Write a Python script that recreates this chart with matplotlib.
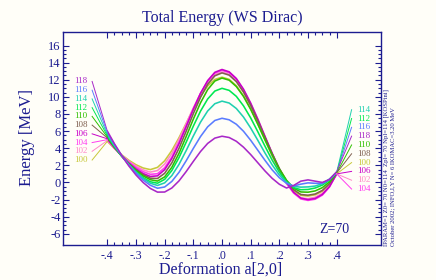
import matplotlib
matplotlib.use("Agg")
import matplotlib.pyplot as plt
from matplotlib.ticker import FixedLocator

plt.rcParams['font.family'] = ['Liberation Serif', 'DejaVu Serif']

# ---------------- data ----------------
deformation = [-0.400, -0.375, -0.350, -0.325, -0.300, -0.275, -0.250, -0.225,
               -0.200, -0.175, -0.150, -0.125, -0.100, -0.075, -0.050, -0.025,
               0.000, 0.025, 0.050, 0.075, 0.100, 0.125, 0.150, 0.175,
               0.200, 0.225, 0.250, 0.275, 0.300, 0.325, 0.350, 0.375, 0.400]

neutrons = [100, 102, 104, 106, 108, 110, 112, 114, 116, 118]

energy_N100 = [4.80, 3.97, 3.23, 2.59, 2.07, 1.69, 1.50, 1.76, 2.53, 3.73, 5.23, 6.90, 8.57,
               10.07, 11.27, 12.04, 12.30, 12.05, 11.30, 10.13, 8.61, 6.84, 4.97, 3.13,
               1.44, 0.06, -0.96, -1.51, -1.59, -1.45, -1.03, -0.23, 1.00]
energy_N102 = [4.90, 3.99, 3.18, 2.48, 1.91, 1.47, 1.21, 1.39, 2.15, 3.40, 5.03, 6.87, 8.72,
               10.40, 11.74, 12.60, 12.90, 12.63, 11.84, 10.59, 8.97, 7.09, 5.10, 3.13,
               1.34, -0.14, -1.22, -1.80, -1.89, -1.73, -1.26, -0.38, 1.00]
energy_N104 = [5.00, 4.02, 3.15, 2.39, 1.75, 1.26, 0.95, 1.02, 1.72, 2.98, 4.67, 6.60, 8.58,
               10.39, 11.84, 12.78, 13.10, 12.83, 12.05, 10.80, 9.18, 7.30, 5.29, 3.31,
               1.47, -0.08, -1.24, -1.93, -2.10, -1.96, -1.48, -0.53, 1.00]
energy_N106 = [5.10, 4.04, 3.09, 2.27, 1.58, 1.04, 0.70, 0.77, 1.49, 2.79, 4.52, 6.51, 8.55,
               10.41, 11.90, 12.87, 13.20, 12.93, 12.15, 10.90, 9.28, 7.40, 5.39, 3.41,
               1.57, 0.02, -1.14, -1.83, -2.00, -1.87, -1.40, -0.48, 1.00]
energy_N108 = [5.20, 4.09, 3.09, 2.22, 1.48, 0.90, 0.50, 0.46, 1.07, 2.29, 3.99, 5.98, 8.04,
               9.94, 11.47, 12.46, 12.80, 12.54, 11.78, 10.57, 9.00, 7.18, 5.26, 3.36,
               1.63, 0.20, -0.84, -1.41, -1.49, -1.35, -0.93, -0.13, 1.10]
energy_N110 = [5.30, 4.14, 3.10, 2.18, 1.40, 0.76, 0.32, 0.16, 0.65, 1.77, 3.40, 5.36, 7.40,
               9.30, 10.85, 11.85, 12.20, 11.95, 11.21, 10.05, 8.54, 6.80, 4.97, 3.19,
               1.57, 0.26, -0.66, -1.11, -1.14, -0.99, -0.61, 0.07, 1.10]
energy_N112 = [5.45, 4.20, 3.08, 2.09, 1.24, 0.56, 0.08, -0.09, 0.36, 1.39, 2.90, 4.70, 6.58,
               8.33, 9.75, 10.68, 11.00, 10.76, 10.06, 8.95, 7.54, 5.92, 4.23, 2.61,
               1.20, 0.09, -0.61, -0.85, -0.82, -0.65, -0.31, 0.27, 1.10]
energy_N114 = [5.60, 4.30, 3.12, 2.08, 1.18, 0.45, -0.09, -0.35, -0.05, 0.80, 2.11, 3.72, 5.43,
               7.04, 8.35, 9.20, 9.50, 9.28, 8.64, 7.64, 6.36, 4.92, 3.44, 2.05,
               0.87, 0.00, -0.47, -0.55, -0.52, -0.42, -0.15, 0.40, 1.20]
energy_N116 = [5.80, 4.42, 3.16, 2.04, 1.07, 0.27, -0.33, -0.68, -0.53, 0.12, 1.18, 2.53, 3.98,
               5.36, 6.50, 7.24, 7.50, 7.32, 6.80, 5.98, 4.93, 3.76, 2.58, 1.47,
               0.55, -0.10, -0.42, -0.20, -0.05, -0.10, -0.10, 0.35, 1.15]
energy_N118 = [6.00, 4.51, 3.15, 1.93, 0.87, -0.01, -0.70, -1.13, -1.12, -0.65, 0.18, 1.27, 2.46,
               3.61, 4.56, 5.18, 5.40, 5.25, 4.81, 4.12, 3.26, 2.30, 1.34, 0.48,
               -0.21, -0.65, -0.35, 0.15, 0.30, 0.15, 0.00, 0.35, 1.25]

energies = {100: energy_N100, 102: energy_N102, 104: energy_N104, 106: energy_N106,
            108: energy_N108, 110: energy_N110, 112: energy_N112, 114: energy_N114,
            116: energy_N116, 118: energy_N118}

left_label_order = [118, 116, 114, 112, 110, 108, 106, 104, 102, 100]
right_label_order = [114, 112, 116, 118, 110, 108, 100, 106, 102, 104]

x_tick_values = [-0.4, -0.3, -0.2, -0.1, 0.0, 0.1, 0.2, 0.3, 0.4]
x_tick_labels = ['-.4', '-.3', '-.2', '-.1', '.0', '.1', '.2', '.3', '.4']
y_tick_values = [-6, -4, -2, 0, 2, 4, 6, 8, 10, 12, 14, 16]

title_text = 'Total Energy (WS Dirac)'
xlabel_text = 'Deformation a[2,0]'
ylabel_text = 'Energy [MeV]'
z_text = 'Z=70'
info_line1 = 'IPARAM=1 Z0= 70 N0=114  Zpl= 70 Npl=114 [KOSPini]'
info_line2 = 'October 2002; INFO,I,Y N= 6 IKOMAC=3.20 MeV'

# ---------------- styles ----------------
colors = {100: '#c8c83a', 102: '#ff88c8', 104: '#ff3cf0', 106: '#c800c8',
          108: '#806050', 110: '#30c000', 112: '#00e850', 114: '#20d0b0',
          116: '#5a7cff', 118: '#a828c8'}
navy = '#1c1c90'
bg = '#fffef8'

fig = plt.figure(figsize=(4.36, 2.8), dpi=100, facecolor=bg)
ax = fig.add_axes([63 / 436, 1 - 245 / 280, 318 / 436, 213 / 280])
ax.set_facecolor(bg)

for n in neutrons:
    ax.plot(deformation, energies[n], color=colors[n], lw=1.15,
            solid_joinstyle='round', solid_capstyle='round')

# label lines (left)
for k, n in enumerate(left_label_order):
    ly = 11.8 - 1.02 * k
    ax.plot([-0.453, deformation[0]], [ly, energies[n][0]], color=colors[n], lw=0.7)
    ax.text(-0.470, ly, str(n), ha='right', va='center', fontsize=6.5, color=colors[n])

# label lines (right)
for k, n in enumerate(right_label_order):
    ly = 8.5 - 1.03 * k
    ax.plot([deformation[-1], 0.452], [energies[n][-1], ly], color=colors[n], lw=0.7)
    ax.text(0.472, ly, str(n), ha='left', va='center', fontsize=6.5, color=colors[n])

ax.set_xlim(-0.5546, 0.5546)
ax.set_ylim(-7.31, 17.58)

ax.set_xticks(x_tick_values)
ax.set_xticklabels(x_tick_labels)
ax.xaxis.set_minor_locator(FixedLocator([-0.4 + 0.025 * i for i in range(33)]))
ax.set_yticks(y_tick_values)
ax.set_yticklabels([str(v) for v in y_tick_values])
ax.yaxis.set_minor_locator(FixedLocator([-6 + 0.5 * i for i in range(45)]))

ax.tick_params(which='both', direction='in', top=True, right=True,
               color=navy, labelcolor=navy, width=0.8)
ax.tick_params(which='major', length=4.5)
ax.tick_params(which='minor', length=2.2)
ax.tick_params(axis='x', pad=3.5, labelsize=8.5)
ax.tick_params(axis='y', pad=1.5, labelsize=9)
for s in ax.spines.values():
    s.set_color(navy)
    s.set_linewidth(1.0)

ax.text(0.9, 0.075, z_text, transform=ax.transAxes, ha='right', va='center',
        fontsize=10, color=navy)

fig.text(222 / 436, 1 - 18 / 280, title_text, ha='center', va='center',
         fontsize=11.5, color=navy)
fig.text(221 / 436, 1 - 270 / 280, xlabel_text, ha='center', va='center',
         fontsize=11.5, color=navy)
fig.text(27 / 436, 1 - 138 / 280, ylabel_text, ha='center', va='center',
         rotation=90, fontsize=12, color=navy)
fig.text(386 / 436, 1 - 246 / 280, info_line1, ha='center', va='bottom',
         rotation=90, fontsize=4.8, color=navy)
fig.text(392.5 / 436, 1 - 246 / 280, info_line2, ha='center', va='bottom',
         rotation=90, fontsize=4.8, color=navy)

fig.savefig('out.png', dpi=100, facecolor=bg)
